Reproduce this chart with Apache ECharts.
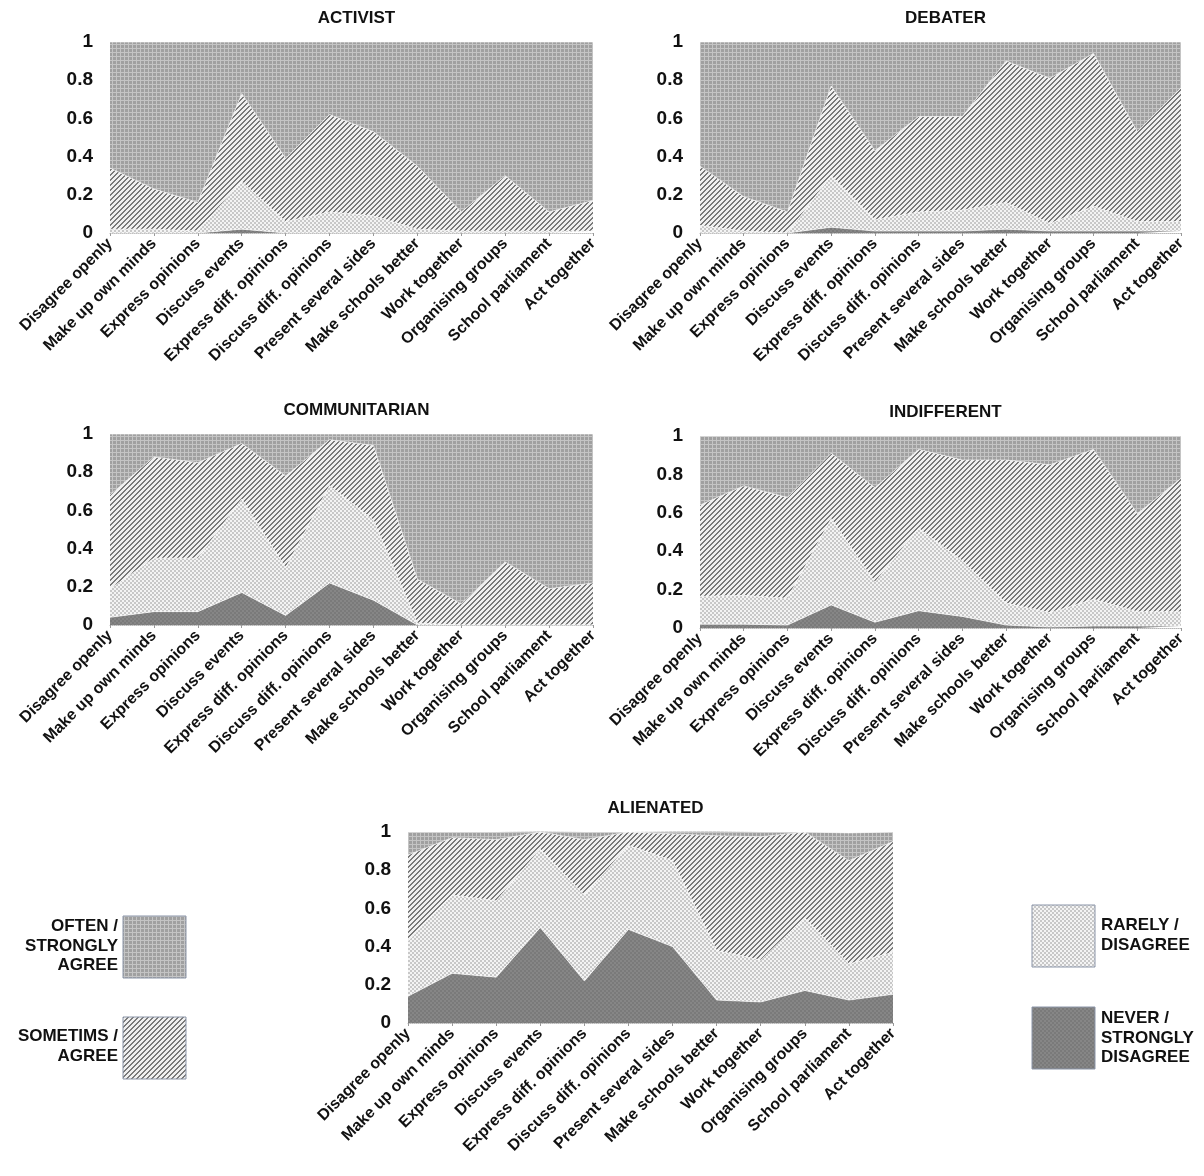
<!DOCTYPE html>
<html>
<head>
<meta charset="utf-8">
<script src="https://cdn.jsdelivr.net/npm/echarts@6/dist/echarts.min.js"></script>
<style>
  html, body { margin: 0; padding: 0; background: #fff; }
  #main { width: 1204px; height: 1176px; }
</style>
</head>
<body>
<div id="main"></div>
<script>
// items on the x axis
var items = ['Disagree openly', 'Make up own minds', 'Express opinions', 'Discuss events',
  'Express diff. opinions', 'Discuss diff. opinions', 'Present several sides',
  'Make schools better', 'Work together', 'Organising groups', 'School parliament', 'Act together'];

var yTicks = [0, 0.2, 0.4, 0.6, 0.8, 1];

// share of answers per profile (never, rarely, sometimes, often)
var activistNever     = [0, 0, 0, 0.02, 0, 0, 0, 0, 0, 0, 0, 0];
var activistRarely    = [0.02, 0.02, 0.01, 0.25, 0.06, 0.11, 0.09, 0.02, 0.01, 0.01, 0.01, 0.01];
var activistSometimes = [0.32, 0.21, 0.15, 0.46, 0.33, 0.51, 0.44, 0.33, 0.10, 0.29, 0.10, 0.16];
var activistOften     = [0.66, 0.77, 0.84, 0.27, 0.61, 0.38, 0.47, 0.65, 0.89, 0.70, 0.89, 0.83];

var debaterNever     = [0, 0, 0, 0.03, 0.01, 0.01, 0.01, 0.02, 0.01, 0.01, 0.01, 0.01];
var debaterRarely    = [0.04, 0.01, 0, 0.27, 0.06, 0.10, 0.11, 0.14, 0.04, 0.13, 0.05, 0.05];
var debaterSometimes = [0.31, 0.18, 0.11, 0.47, 0.36, 0.50, 0.49, 0.74, 0.76, 0.80, 0.47, 0.70];
var debaterOften     = [0.65, 0.81, 0.89, 0.23, 0.57, 0.39, 0.39, 0.10, 0.19, 0.06, 0.47, 0.24];

var communitarianNever     = [0.04, 0.07, 0.07, 0.17, 0.05, 0.22, 0.13, 0, 0, 0, 0, 0];
var communitarianRarely    = [0.15, 0.28, 0.28, 0.49, 0.25, 0.51, 0.42, 0.01, 0, 0, 0, 0];
var communitarianSometimes = [0.49, 0.53, 0.50, 0.29, 0.48, 0.24, 0.39, 0.23, 0.11, 0.33, 0.19, 0.22];
var communitarianOften     = [0.32, 0.12, 0.15, 0.05, 0.22, 0.03, 0.06, 0.76, 0.89, 0.67, 0.81, 0.78];

var indifferentNever     = [0.02, 0.02, 0.015, 0.12, 0.03, 0.09, 0.06, 0.015, 0.005, 0.01, 0.01, 0.01];
var indifferentRarely    = [0.145, 0.15, 0.14, 0.45, 0.21, 0.43, 0.29, 0.115, 0.075, 0.14, 0.075, 0.075];
var indifferentSometimes = [0.475, 0.57, 0.525, 0.34, 0.49, 0.41, 0.525, 0.745, 0.77, 0.78, 0.51, 0.695];
var indifferentOften     = [0.36, 0.26, 0.32, 0.09, 0.27, 0.07, 0.125, 0.125, 0.15, 0.07, 0.405, 0.22];

var alienatedNever     = [0.14, 0.26, 0.24, 0.50, 0.22, 0.49, 0.40, 0.12, 0.11, 0.17, 0.12, 0.15];
var alienatedRarely    = [0.29, 0.41, 0.40, 0.41, 0.45, 0.44, 0.45, 0.26, 0.22, 0.38, 0.19, 0.22];
var alienatedSometimes = [0.45, 0.30, 0.32, 0.09, 0.29, 0.07, 0.14, 0.60, 0.645, 0.45, 0.54, 0.58];
var alienatedOften     = [0.12, 0.03, 0.04, 0.005, 0.04, 0, 0.015, 0.025, 0.025, 0, 0.145, 0.05];

var font = '"Liberation Sans", Arial, sans-serif';

// little canvas textures like the hatch fills of the original
function makeTile(w, h, draw) {
  var c = document.createElement('canvas');
  c.width = w; c.height = h;
  draw(c.getContext('2d'));
  return { image: c, repeat: 'repeat' };
}

var oftenFill = makeTile(4, 4, function (ctx) {
  ctx.fillStyle = '#a0a0a0'; ctx.fillRect(0, 0, 4, 4);
  ctx.fillStyle = '#c4c4c4'; ctx.fillRect(0, 0, 4, 1); ctx.fillRect(0, 0, 1, 4);
});
var sometimesFill = makeTile(5, 5, function (ctx) {
  ctx.fillStyle = '#f0f0f0'; ctx.fillRect(0, 0, 5, 5);
  ctx.fillStyle = '#7a7a7a';
  for (var i = 0; i < 5; i++) {
    ctx.fillRect(i, 4 - i, 1, 1);
    ctx.fillRect(i, (5 - i) % 5, 1, 1);
  }
});
var rarelyFill = makeTile(4, 4, function (ctx) {
  ctx.fillStyle = '#f4f4f4'; ctx.fillRect(0, 0, 4, 4);
  ctx.fillStyle = '#c8c8c8'; ctx.fillRect(0, 0, 2, 2); ctx.fillRect(2, 2, 2, 2);
});
var neverFill = makeTile(4, 4, function (ctx) {
  ctx.fillStyle = '#7a7a7a'; ctx.fillRect(0, 0, 4, 4);
  ctx.fillStyle = '#868686'; ctx.fillRect(0, 0, 2, 2); ctx.fillRect(2, 2, 2, 2);
});

var panels = [
  { title: 'ACTIVIST', grid: { left: 110, top: 42, width: 483, height: 191 },
    data: [activistNever, activistRarely, activistSometimes, activistOften] },
  { title: 'DEBATER', grid: { left: 700, top: 42, width: 481, height: 191 },
    data: [debaterNever, debaterRarely, debaterSometimes, debaterOften] },
  { title: 'COMMUNITARIAN', grid: { left: 110, top: 434, width: 483, height: 191 },
    data: [communitarianNever, communitarianRarely, communitarianSometimes, communitarianOften] },
  { title: 'INDIFFERENT', grid: { left: 700, top: 436, width: 481, height: 192 },
    data: [indifferentNever, indifferentRarely, indifferentSometimes, indifferentOften] },
  { title: 'ALIENATED', grid: { left: 408, top: 832, width: 485, height: 191 },
    data: [alienatedNever, alienatedRarely, alienatedSometimes, alienatedOften] }
];
var layerNames = ['NEVER / STRONGLY DISAGREE', 'RARELY / DISAGREE', 'SOMETIMS / AGREE', 'OFTEN / STRONGLY AGREE'];
var layerFills = [neverFill, rarelyFill, sometimesFill, oftenFill];

var chartDom = document.getElementById('main');
var chart = echarts.init(chartDom);

var titles = [], grids = [], xAxes = [], yAxes = [], series = [];

panels.forEach(function (p, i) {
  grids.push(p.grid);
  titles.push({
    text: p.title,
    left: p.grid.left + p.grid.width / 2,
    top: p.grid.top - 37,
    textAlign: 'center',
    textStyle: { fontFamily: font, fontSize: 17, fontWeight: 'bold', color: '#111' }
  });
  xAxes.push({
    type: 'category', gridIndex: i, data: items, boundaryGap: false,
    axisLine: { lineStyle: { color: '#b8b8b8', type: 'dotted' } },
    axisTick: { length: 3, lineStyle: { color: '#999' } },
    axisLabel: { rotate: 45, interval: 0, margin: 8, fontFamily: font, fontSize: 16, fontWeight: 'bold', color: '#111' }
  });
  yAxes.push({
    type: 'value', gridIndex: i, min: yTicks[0], max: yTicks[yTicks.length - 1], interval: 0.2,
    axisLine: { show: false }, axisTick: { show: false }, splitLine: { show: false },
    axisLabel: { margin: 17, fontFamily: font, fontSize: 19, fontWeight: 'bold', color: '#111' }
  });
  p.data.forEach(function (vals, k) {
    series.push({
      name: layerNames[k], type: 'line', xAxisIndex: i, yAxisIndex: i,
      stack: 'profile' + i, data: vals, showSymbol: false, silent: true,
      lineStyle: { width: 1, color: 'rgba(255,255,255,0.55)' },
      areaStyle: { color: layerFills[k], opacity: 1 }
    });
  });
});

// legend boxes, drawn like the original (text beside a hatched square)
function legendBlock(x, y, fill, lines, side, textDy) {
  return [{
    type: 'rect', shape: { x: x, y: y, width: 63, height: 62 },
    style: { fill: fill, stroke: '#8b95a8', lineWidth: 1 }
  }, {
    type: 'text',
    x: side === 'left' ? x - 5 : x + 69,
    y: y + textDy,
    style: {
      text: lines.join('\n'), align: side === 'left' ? 'right' : 'left', verticalAlign: 'top',
      font: 'bold 17px ' + font, lineHeight: 19.5, fill: '#111'
    }
  }];
}

var graphics = []
  .concat(legendBlock(123, 916, oftenFill, ['OFTEN /', 'STRONGLY', 'AGREE'], 'left', 1))
  .concat(legendBlock(123, 1017, sometimesFill, ['SOMETIMS /', 'AGREE'], 'left', 10))
  .concat(legendBlock(1032, 905, rarelyFill, ['RARELY /', 'DISAGREE'], 'right', 11))
  .concat(legendBlock(1032, 1007, neverFill, ['NEVER /', 'STRONGLY', 'DISAGREE'], 'right', 2));

option = {
  animation: false,
  title: titles,
  grid: grids,
  xAxis: xAxes,
  yAxis: yAxes,
  series: series,
  graphic: graphics
};

chart.setOption(option);
</script>
</body>
</html>
